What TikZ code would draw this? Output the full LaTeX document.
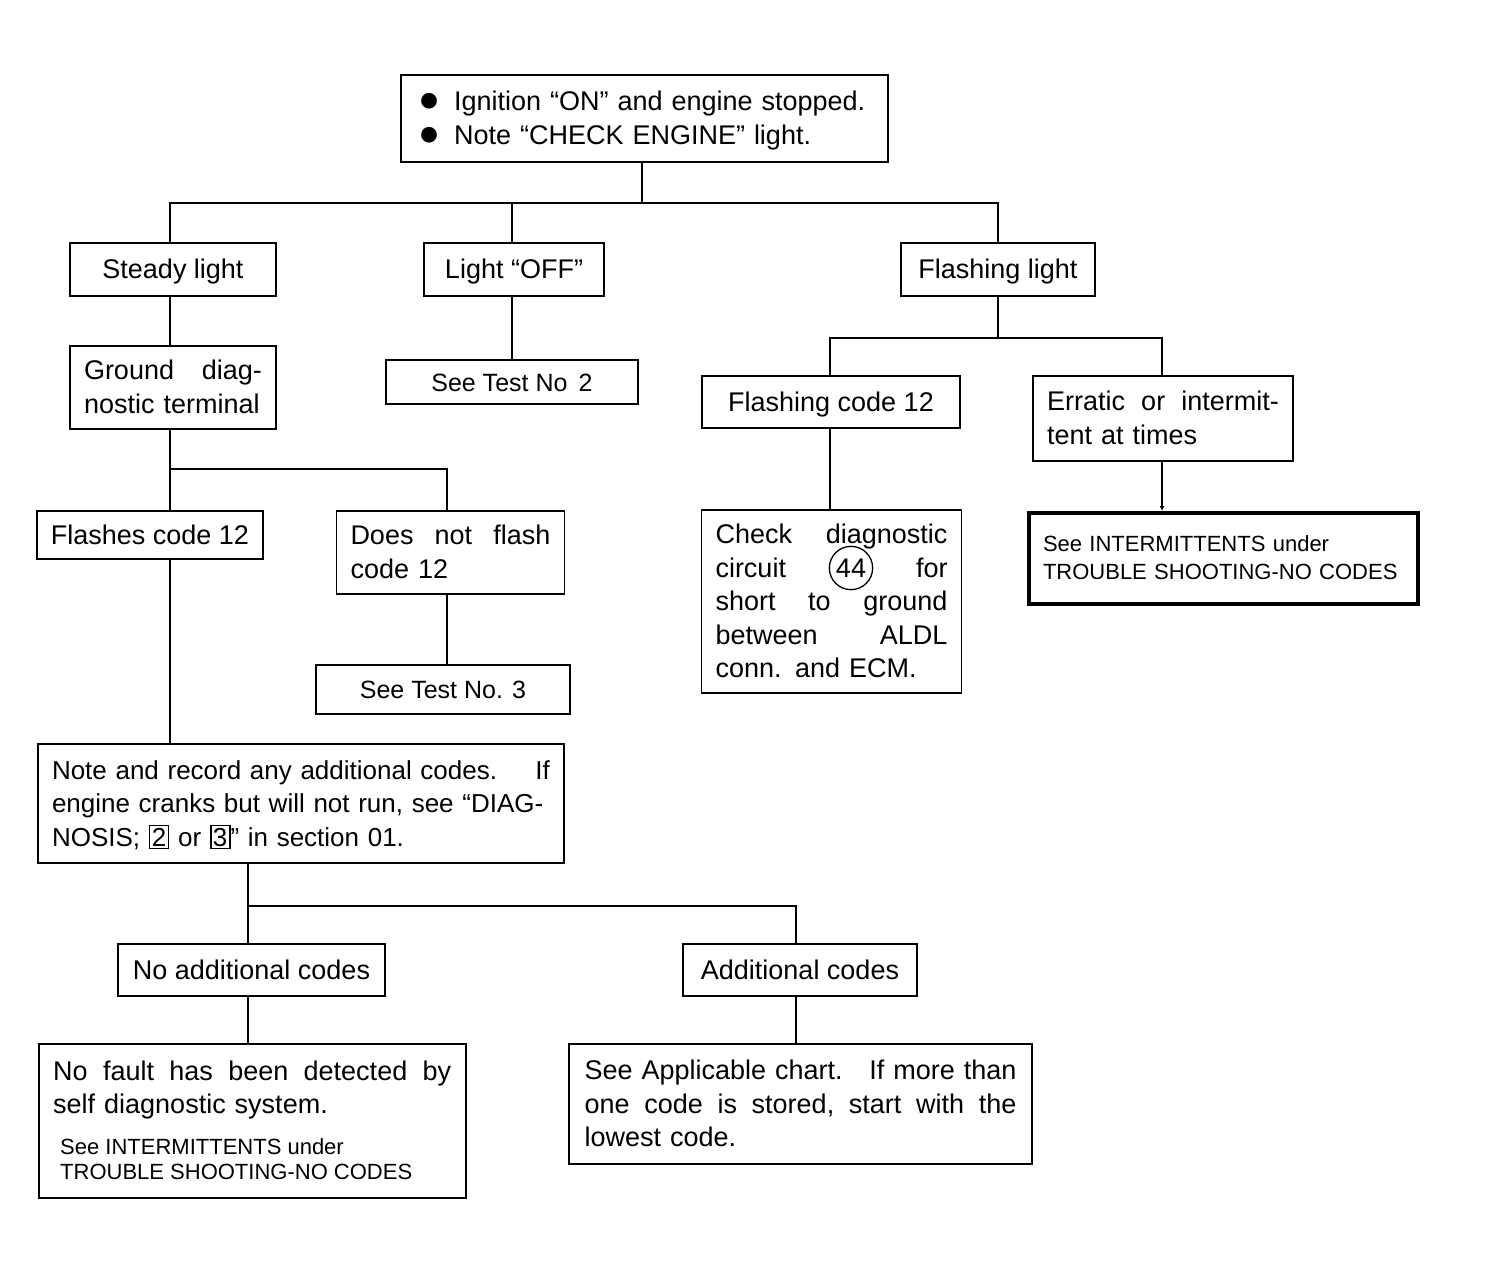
\documentclass[tikz,border=0pt]{standalone}
\usepackage{fontspec}
\setmainfont{Liberation Sans}
\usetikzlibrary{arrows.meta}
\newcommand\stt{\rule[-6pt]{0pt}{30pt}}
\newcommand\sst{\rule[-5pt]{0pt}{24pt}}
\newcommand\jl[2]{\makebox[#1][s]{#2}}
\newcommand\bx[1]{{\setlength\fboxsep{1.5pt}\setlength\fboxrule{1.6pt}\fbox{#1}}}
\newcommand\bul{\makebox[36pt][l]{\raisebox{-1pt}{\scalebox{1.35}{●}}}}
\begin{document}
\begin{tikzpicture}[x=1pt,y=-1pt,
  box/.style={draw,line width=1.8pt,inner xsep=14pt,inner ysep=0pt,
    font=\fontsize{27}{33.5}\selectfont,
    execute at begin node=\stt, execute at end node=\stt},
  smallbox/.style={box,font=\fontsize{25}{30}\selectfont},
  thickbox/.style={draw,line width=4pt,inner xsep=14pt,inner ysep=0pt,
    font=\fontsize{22}{28}\selectfont,
    execute at begin node=\sst, execute at end node=\sst},
  txt/.style={inner sep=0pt,font=\fontsize{27}{33.5}\selectfont,
    execute at begin node=\stt, execute at end node=\stt},
  smalltxt/.style={inner sep=0pt,font=\fontsize{22}{25}\selectfont,
    execute at begin node=\sst, execute at end node=\sst},
  ring/.style={draw,circle,line width=1.3pt,inner sep=0.3pt,
    minimum width=0pt,minimum height=0pt,text width=,
    execute at begin node={},execute at end node={}},
  link/.style={line width=1.8pt},
  sz/.style 2 args={minimum width=#1pt,minimum height=#2pt}]
\useasboundingbox (0,0) rectangle (1493,1280);
\fill[white] (0,0) rectangle (1493,1280);

% top box
\node[box,sz={487}{87},inner xsep=17pt,text width=453pt,align=left] (top) at (644.5,118.5)
  {\bul Ignition ``ON'' and engine stopped.\\
   \bul Note ``CHECK ENGINE'' light.};

% level 1
\node[box,sz={206}{53}] (steady) at (173,269.5) {Steady light};
\node[box,sz={180}{53}] (off) at (514,269.5) {Light ``OFF''};
\node[box,sz={194}{53}] (flash) at (998,269.5) {Flashing light};

% level 2
\node[box,sz={206}{83},text width=178pt,align=left] (ground) at (173,387.5)
  {\jl{178pt}{Ground\hfill diag-}\\nostic terminal};
\node[smallbox,sz={252}{44}] (test2) at (512,382) {See Test No\hspace{0.45em}2};
\node[box,sz={258}{52}] (flash12) at (831,402) {Flashing code 12};
\node[box,sz={258}{85},text width=232pt,align=left] (erratic) at (1163,418.5)
  {\jl{232pt}{Erratic\hfill or\hfill intermit-}\\tent at times};

% level 3
\node[box,sz={224}{48}] (flashes12) at (150,535) {Flashes code 12};
\node[box,sz={227}{83},text width=200pt,align=left] (doesnot) at (450.5,552.5)
  {\jl{200pt}{Does\hfill not\hfill flash}\\code 12};
\node[box,sz={259}{183},text width=232pt,align=left] (checkdiag) at (831.5,601.5)
  {\jl{232pt}{Check\hfill diagnostic}\\
   \jl{232pt}{circuit\hfill\smash{\tikz[baseline=(c44.base)]\node[ring] (c44) {44};}\hfill for}\\
   \jl{232pt}{short\hfill to\hfill ground}\\
   \jl{232pt}{between\hfill ALDL}\\
   conn. and ECM.};
\node[thickbox,sz={389}{91},text width=361pt,align=left] (intermit) at (1223.5,558.5)
  {See INTERMITTENTS under\\TROUBLE SHOOTING-NO CODES};
\node[smallbox,sz={254}{49}] (test3) at (443,689.5) {See Test No. 3};

% note box
\node[box,sz={526}{119},text width=498pt,align=left,font=\fontsize{26}{33.5}\selectfont] (note) at (301,803.5)
  {\jl{498pt}{Note and record any additional codes.\hfill If}\\
   \jl{498pt}{engine cranks but will not run, see ``DIAG-}\\
   NOSIS; \bx{2} or \bx{3}'' in section 01.};

% bottom level
\node[box,sz={267}{52}] (noadd) at (251.5,970) {No additional codes};
\node[box,sz={234}{52}] (add) at (800,970) {Additional codes};
\node[box,sz={427}{154}] (nofault) at (252.5,1121) {};
\node[txt,anchor=north west,text width=398pt,align=left] (nofaulttxt) at (53,1056)
  {\jl{398pt}{No\hfill fault\hfill has\hfill been\hfill detected\hfill by}\\self diagnostic system.};
\node[smalltxt,anchor=north west,align=left] (nofaultsee) at (60,1138)
  {See INTERMITTENTS under\\TROUBLE SHOOTING-NO CODES};
\node[box,sz={463}{120},text width=432pt,align=left] (appl) at (800.5,1104)
  {\jl{432pt}{See Applicable chart.\hfill If more than}\\
   \jl{432pt}{one\hfill code\hfill is\hfill stored,\hfill start\hfill with\hfill the}\\
   lowest code.};

% junctions
\coordinate (j1) at (642,203);
\coordinate (j2) at (998,338);
\coordinate (j3) at (170,469);
\coordinate (j4) at (248,906);

% connectors
\draw[link] (top.south -| j1) -- (j1);
\draw[link] (steady.north -| 170,0) |- (j1) -| (flash.north);
\draw[link] (off.north -| 512,0) -- (j1 -| 512,0);
\draw[link] (steady.south -| 170,0) -- (ground.north -| 170,0);
\draw[link] (off.south -| 512,0) -- (test2.north -| 512,0);
\draw[link] (flash.south) -- (j2);
\draw[link] (flash12.north -| 830,0) |- (j2) -| (erratic.north -| 1162,0);
\draw[link] (flash12.south -| 830,0) -- (checkdiag.north -| 830,0);
\draw[link,-{Latex[length=5pt,width=5pt]}] (erratic.south -| 1162,0) -- (intermit.north -| 1162,0);
\draw[link] (ground.south -| j3) -- (j3);
\draw[link] (flashes12.north -| j3) |- (j3) -| (doesnot.north -| 447,0);
\draw[link] (doesnot.south -| 447,0) -- (test3.north -| 447,0);
\draw[link] (flashes12.south -| j3) -- (note.north -| j3);
\draw[link] (note.south -| j4) -- (j4);
\draw[link] (noadd.north -| j4) |- (j4) -| (add.north -| 796,0);
\draw[link] (noadd.south -| j4) -- (nofault.north -| j4);
\draw[link] (add.south -| 796,0) -- (appl.north -| 796,0);
\end{tikzpicture}
\end{document}
